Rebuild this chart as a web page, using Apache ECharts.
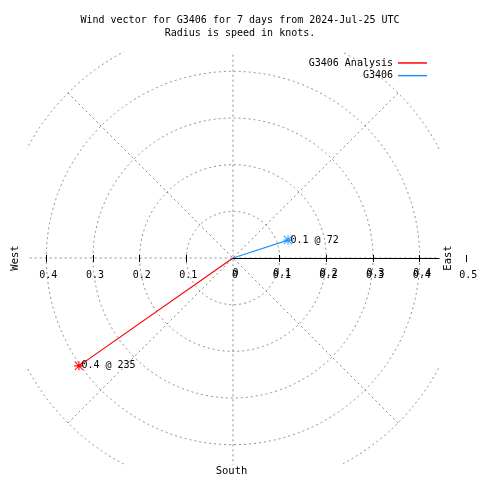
<!DOCTYPE html>
<html><head><meta charset="utf-8">
<script src="https://cdn.jsdelivr.net/npm/echarts@6/dist/echarts.min.js"></script>
<style>html,body{margin:0;padding:0;background:#fff}#c{width:480px;height:480px}</style>
</head><body><div id="c"></div><script>
// ---- data ----
const titleLines = ['Wind vector for G3406 for 7 days from 2024-Jul-25 UTC', 'Radius is speed in knots.'];
const seriesNames = ['G3406 Analysis', 'G3406'];
const speeds = [0.403, 0.124];        // knots
const directions = [235, 72];         // degrees (compass)
const eastTickValues = [0.1, 0.2, 0.3, 0.4, 0.5];
const eastLabelValues = [0, 0.1, 0.2, 0.3, 0.4, 0.5];
const eastOverLabelValues = [0, 0.1, 0.2, 0.3, 0.4];
const westTickValues = [0.1, 0.2, 0.3, 0.4];
const compassNames = ['West', 'East', 'South'];

// ---- styles ----
const FONT = 'DejaVu Sans Mono';
const colors = ['#ff0000', '#1e90ff'];
const grey = '#8c8c8c';
const CX = 233, CY = 258, R = 233.33, RMAX = 0.5;
const star = 'path://M0,4.4L10,4.4L10,5.6L0,5.6Z M4.4,0L5.6,0L5.6,10L4.4,10Z M0.8,0L10,9.2L9.2,10L0,0.8Z M9.2,0L10,0.8L0.8,10L0,9.2Z';
const fmt = v => v === 0 ? '0' : v.toFixed(1);
const lblStyle = { color: '#000', fontFamily: FONT, fontSize: 10 };

const chart = echarts.init(document.getElementById('c'), null, { renderer: 'canvas' });

const series = seriesNames.map((name, i) => ({
  name, type: 'line', coordinateSystem: 'polar', z: 3,
  lineStyle: { color: colors[i], width: 1.2 },
  itemStyle: { color: colors[i] },
  symbol: star, symbolSize: 9,
  data: [
    { value: [0, 0], symbol: 'none' },
    { value: [speeds[i], directions[i]],
      label: { show: true, position: 'right', distance: -2, ...lblStyle,
        formatter: () => speeds[i].toFixed(1) + ' @ ' + directions[i] } }
  ],
  animation: false
}));

const gridBase = { top: CY - 10, height: 10, outerBoundsMode: 'none', containLabel: false };
const xBase = { type: 'value', z: 5, splitLine: { show: false }, axisLine: { show: false } };
const dash = { color: grey, width: 1, type: [2, 3] };

chart.setOption({
  animation: false,
  title: {
    text: titleLines.join('\n'), left: 'center', top: 14, padding: [0, 17, 0, 0], z: 6,
    textStyle: { fontFamily: FONT, fontSize: 10, fontWeight: 'normal', color: '#000', lineHeight: 13 }
  },
  legend: {
    orient: 'vertical', align: 'right', right: 53, top: 56.6, padding: 0, itemGap: 0,
    itemWidth: 29, itemHeight: 1.5, icon: 'rect', z: 6,
    textStyle: { fontFamily: FONT, fontSize: 10, color: '#000', lineHeight: 12.7 },
    data: seriesNames
  },
  polar: { center: [CX, CY], radius: R },
  angleAxis: {
    type: 'value', min: 0, max: 360, interval: 45, startAngle: 90, clockwise: true, z: 0,
    axisLine: { show: false }, axisTick: { show: false }, axisLabel: { show: false },
    splitLine: { show: true, lineStyle: dash }
  },
  radiusAxis: {
    type: 'value', min: 0, max: RMAX, interval: 0.1, z: 0,
    axisLine: { show: false }, axisTick: { show: false }, axisLabel: { show: false },
    splitLine: { show: true, lineStyle: dash }
  },
  grid: [
    { ...gridBase, left: CX, width: R },              // east ticks/labels
    { ...gridBase, left: CX - R, width: R },          // west ticks/labels
    { ...gridBase, left: CX, width: 206 }             // east axis line
  ],
  yAxis: [0, 1, 2].map(g => ({ type: 'value', gridIndex: g, show: false })),
  xAxis: [
    { ...xBase, gridIndex: 0, position: 'bottom', min: 0, max: RMAX,
      axisTick: { show: true, inside: false, length: 4, customValues: eastTickValues, lineStyle: { color: '#000' } },
      axisLabel: { show: true, margin: 12, padding: [0, 0, 0, 4], customValues: eastLabelValues, formatter: fmt, ...lblStyle } },
    { ...xBase, gridIndex: 0, position: 'bottom', min: 0, max: RMAX,
      axisTick: { show: true, inside: true, length: 3, customValues: eastTickValues, lineStyle: { color: '#000' } },
      axisLabel: { show: true, margin: 10, padding: [0, 0, 0, 5], customValues: eastOverLabelValues, formatter: fmt, ...lblStyle } },
    { ...xBase, gridIndex: 1, position: 'bottom', min: 0, max: RMAX, inverse: true,
      axisTick: { show: true, inside: false, length: 4, customValues: westTickValues, lineStyle: { color: '#000' } },
      axisLabel: { show: true, margin: 12, padding: [0, 0, 0, 4], customValues: westTickValues, formatter: fmt, ...lblStyle } },
    { ...xBase, gridIndex: 1, position: 'bottom', min: 0, max: RMAX, inverse: true,
      axisTick: { show: true, inside: true, length: 3, customValues: westTickValues, lineStyle: { color: '#000' } },
      axisLabel: { show: false } },
    { ...xBase, gridIndex: 2, position: 'bottom', min: 0, max: 0.44,
      axisLine: { show: true, lineStyle: { color: '#000', width: 1.2 } },
      axisTick: { show: false }, axisLabel: { show: false } }
  ],
  graphic: { elements: [
    { type: 'rect', z: 1, silent: true, shape: { x: 0, y: 0, width: 480, height: 52 }, style: { fill: '#fff' } },
    { type: 'rect', z: 1, silent: true, shape: { x: 0, y: 464.5, width: 480, height: 20 }, style: { fill: '#fff' } },
    { type: 'rect', z: 1, silent: true, shape: { x: 0, y: 0, width: 27, height: 480 }, style: { fill: '#fff' } },
    { type: 'rect', z: 1, silent: true, shape: { x: 439.5, y: 0, width: 41, height: 480 }, style: { fill: '#fff' } },
    { type: 'text', z: 10, x: 15, y: 258, rotation: Math.PI / 2,
      style: { text: compassNames[0], font: '10.5px "' + FONT + '"', fill: '#000', align: 'center', verticalAlign: 'middle' } },
    { type: 'text', z: 10, x: 448, y: 258, rotation: Math.PI / 2,
      style: { text: compassNames[1], font: '10.5px "' + FONT + '"', fill: '#000', align: 'center', verticalAlign: 'middle' } },
    { type: 'text', z: 10, x: 231.5, y: 471,
      style: { text: compassNames[2], font: '10.5px "' + FONT + '"', fill: '#000', align: 'center', verticalAlign: 'middle' } }
  ] },
  series
});
</script></body></html>
